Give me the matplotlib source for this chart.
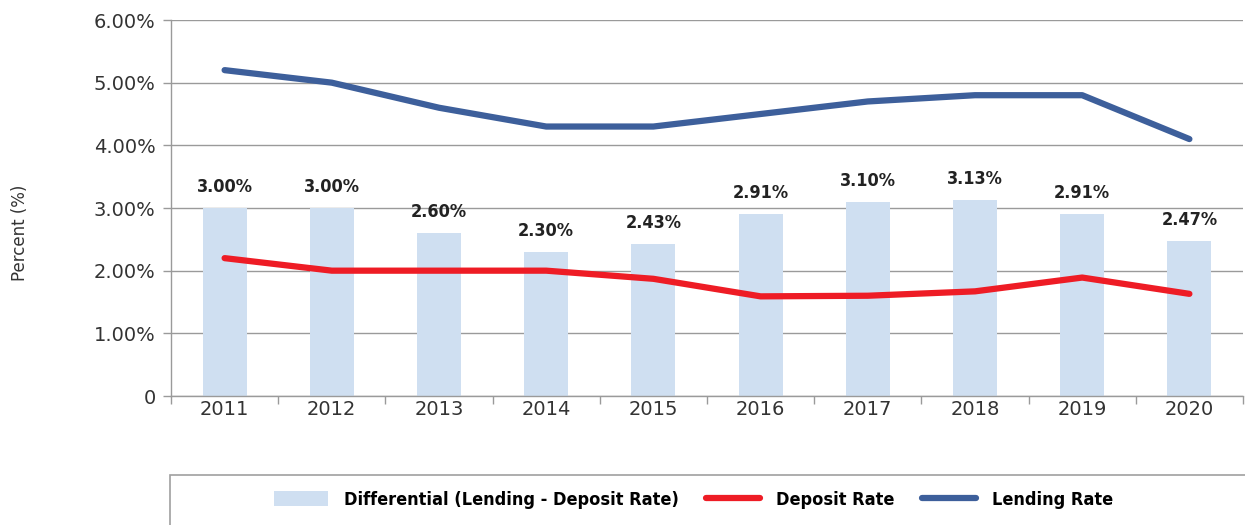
"""
Lending vs deposit rate with differential bars, 2011-2020.

Output:
    out.png
"""

import matplotlib.pyplot as plt
import numpy as np
from matplotlib.patches import Rectangle
from matplotlib.ticker import FuncFormatter

years = ["2011", "2012", "2013", "2014", "2015", "2016", "2017", "2018", "2019", "2020"]
lending_rate = [5.20, 5.00, 4.60, 4.30, 4.30, 4.50, 4.70, 4.80, 4.80, 4.10]
deposit_rate = [2.20, 2.00, 2.00, 2.00, 1.87, 1.59, 1.60, 1.67, 1.89, 1.63]
differential = [3.00, 3.00, 2.60, 2.30, 2.43, 2.91, 3.10, 3.13, 2.91, 2.47]
y_ticks = [0, 1, 2, 3, 4, 5, 6]

BAR_COLOR = "#cfdff1"
RED = "#ee1c25"
BLUE = "#3d5f9b"
GRID = "#9a9a9a"
TEXT = "#333333"


def pct_fmt(v, _pos):
    return "0" if v == 0 else f"{v:.2f}%"


def main() -> None:
    fig = plt.figure(figsize=(12.45, 5.25), dpi=100)
    ax = fig.add_axes([171 / 1245, 1 - 396 / 525, (1243 - 171) / 1245, (396 - 20) / 525])

    x = np.arange(len(years))

    bar_h = ax.bar(x, differential, width=0.41, color=BAR_COLOR, zorder=2)
    (dep_h,) = ax.plot(x, deposit_rate, color=RED, lw=4.5, solid_capstyle="round",
                       solid_joinstyle="round", zorder=3)
    (lend_h,) = ax.plot(x, lending_rate, color=BLUE, lw=4.5, solid_capstyle="round",
                        solid_joinstyle="round", zorder=3)

    # value labels above bars
    for xi, v in zip(x, differential):
        ax.annotate(f"{v:.2f}%", xy=(xi, v), xytext=(0, 15), textcoords="offset points",
                    ha="center", va="center", fontsize=13, fontweight="bold",
                    fontstretch="condensed", color="#222222", zorder=4)

    ax.set_xlim(-0.5, len(years) - 0.5)
    ax.set_ylim(0, 6)
    ax.set_yticks(y_ticks)
    ax.yaxis.set_major_formatter(FuncFormatter(pct_fmt))
    ax.grid(axis="y", color=GRID, lw=1.0, zorder=0)
    ax.set_axisbelow(True)

    # boundary ticks (major, no labels) and centered year labels (minor)
    ax.set_xticks(np.arange(-0.5, len(years), 1.0))
    ax.set_xticklabels([])
    ax.set_xticks(x, minor=True)
    ax.set_xticklabels(years, minor=True)
    ax.tick_params(axis="x", which="major", length=6, width=1, color=GRID)
    ax.tick_params(axis="x", which="minor", length=0, pad=3, labelsize=14, labelcolor=TEXT)
    ax.tick_params(axis="y", length=6, width=1, color=GRID, pad=5, labelsize=14, labelcolor=TEXT)

    for side in ("top", "right"):
        ax.spines[side].set_visible(False)
    for side in ("left", "bottom"):
        ax.spines[side].set_color(GRID)
        ax.spines[side].set_linewidth(1.0)

    fig.text(20 / 1245, 1 - 233 / 525, "Percent (%)", rotation=90, ha="center",
             va="center", fontsize=12, color=TEXT)

    # legend box at the bottom
    fig.patches.append(Rectangle((170 / 1245, -0.05), 1.0, 0.05 + (525 - 475) / 525,
                                 transform=fig.transFigure, fill=False,
                                 edgecolor="#a0a0a0", lw=1.2))
    fig.legend([bar_h, dep_h, lend_h],
               ["Differential (Lending - Deposit Rate)", "Deposit Rate", "Lending Rate"],
               loc="center", bbox_to_anchor=(0.557, 1 - 500 / 525),
               ncol=3, frameon=False, handlelength=3.0, handleheight=0.9,
               handletextpad=0.9, columnspacing=1.5,
               prop={"family": "DejaVu Sans", "stretch": "condensed",
                     "weight": "bold", "size": 13})

    fig.savefig("out.png", dpi=100)


if __name__ == "__main__":
    main()
